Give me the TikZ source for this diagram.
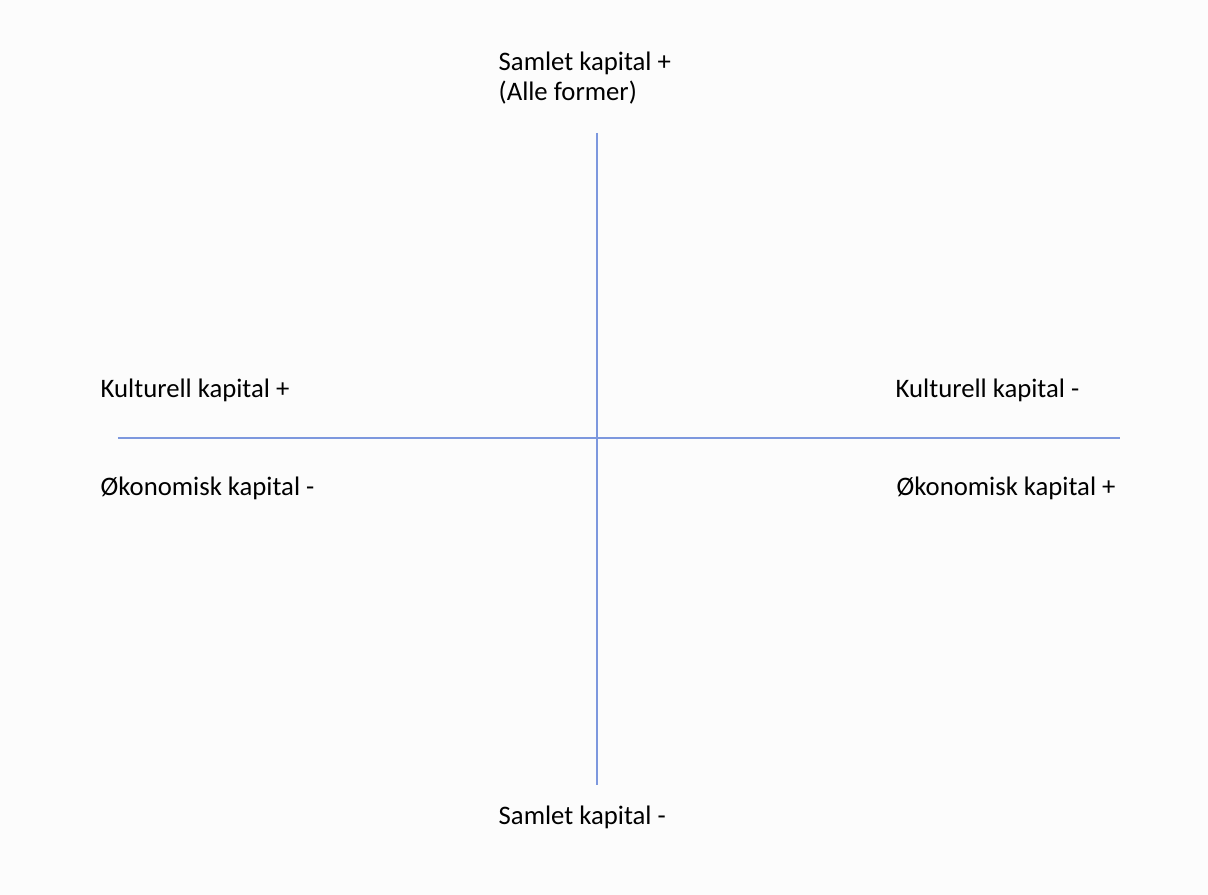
\documentclass[tikz,border=0pt]{standalone}
\usepackage{fontspec}
\setmainfont{Carlito}
\usepackage{tikz}
\usetikzlibrary{positioning}
\definecolor{bakgrunn}{RGB}{252,252,252}
\definecolor{akse}{RGB}{125,152,222}
\tikzset{
  etikett/.style={anchor=base west, inner sep=0pt, align=left, font=\fontsize{7.6}{8.8}\selectfont},
  akselinje/.style={draw=akse, line width=0.45pt}
}

\begin{document}
\begin{tikzpicture}
      \useasboundingbox[fill=bakgrunn] (0,0) rectangle (12.08,8.95);
      % akser
      \coordinate (topp) at (5.97,7.62);
      \coordinate (bunn) at (5.97,1.10);
      \coordinate (venstre) at (1.18,4.57);
      \coordinate (hoyre) at (11.20,4.57);
      \draw[akselinje] (topp) -- (bunn);
      \draw[akselinje] (venstre) -- (hoyre);
      % samlet kapital
      \node[etikett] (samletpluss) at (4.98,7.94) {Samlet kapital +\\(Alle former)};
      \node[etikett] (samletminus) at (4.98,0.70) {Samlet kapital -};
      % venstre side
      \node[etikett] (kulturpluss) at (1.00,4.97) {Kulturell kapital +};
      \node[etikett] (okonomiminus) at (1.00,3.99) {Økonomisk kapital -};
      % hoyre side
      \node[etikett] (kulturminus) at (8.95,4.97) {Kulturell kapital -};
      \node[etikett] (okonomipluss) at (8.96,3.99) {Økonomisk kapital +};
\end{tikzpicture}
\end{document}
